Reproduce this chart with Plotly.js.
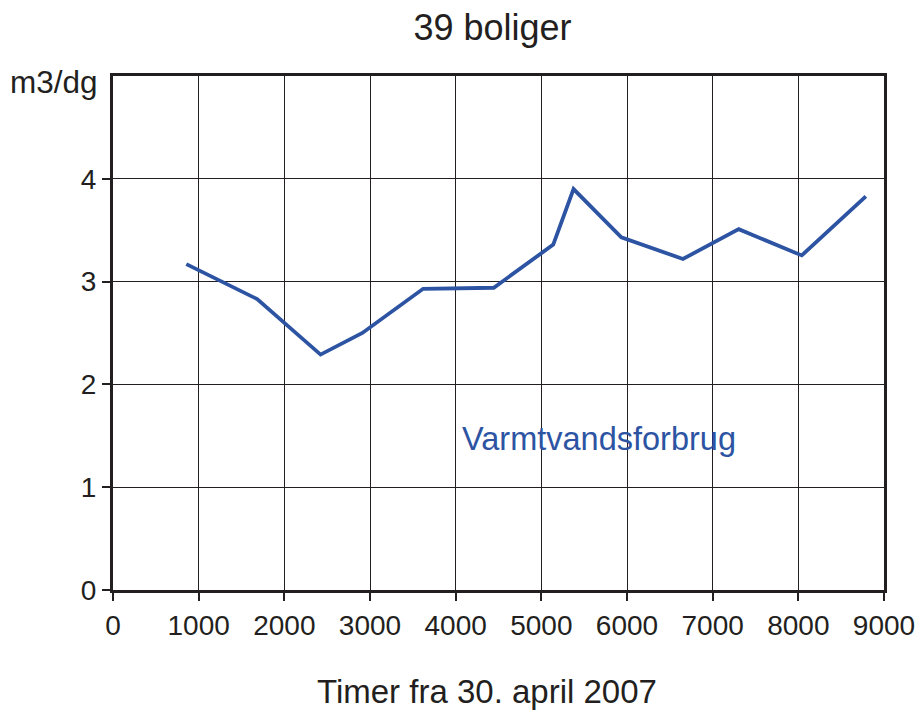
<!DOCTYPE html>
<html>
<head>
<meta charset="utf-8">
<script src="https://cdn.plot.ly/plotly-3.0.1.min.js"></script>
<style>html,body{margin:0;padding:0;background:#fff;}#chart{width:923px;height:710px;}</style>
</head>
<body>
<div id="chart"></div>
<script>
// Data
const hours = [856, 1683, 2423, 2911, 3620, 4445, 5139, 5376, 5934, 6653, 7304, 8040, 8788];
const consumption = [3.17, 2.83, 2.29, 2.50, 2.93, 2.94, 3.36, 3.90, 3.43, 3.22, 3.51, 3.255, 3.83];
const xTicks = [0, 1000, 2000, 3000, 4000, 5000, 6000, 7000, 8000, 9000];
const yTicks = [0, 1, 2, 3, 4];
const seriesName = 'Varmtvandsforbrug';
const chartTitle = '39 boliger';
const xTitle = 'Timer fra 30. april 2007';
const yTitle = 'm3/dg';

const ink = '#231f20';
const lineColor = '#2d54a3';
const font = 'Liberation Sans, Arial, sans-serif';

const trace = {
  x: hours, y: consumption, type: 'scatter', mode: 'lines', name: seriesName,
  line: {color: lineColor, width: 3.8}, hoverinfo: 'x+y'
};

const layout = {
  width: 923, height: 710,
  margin: {l: 113, r: 39, t: 76, b: 120, pad: 0},
  paper_bgcolor: '#ffffff', plot_bgcolor: '#ffffff',
  showlegend: false,
  font: {family: font, color: ink},
  title: {text: chartTitle, font: {family: font, size: 36, color: ink},
          x: 492.5/923, xanchor: 'center', y: 1 - 27/710, yanchor: 'middle'},
  xaxis: {
    range: [0, 9000], tickmode: 'array', tickvals: xTicks, ticktext: xTicks.map(String),
    showgrid: true, gridcolor: ink, gridwidth: 1,
    showline: true, linecolor: ink, linewidth: 3, mirror: true,
    ticks: 'outside', ticklen: 8, tickwidth: 2, tickcolor: ink,
    tickfont: {family: font, size: 28, color: ink},
    zeroline: false, fixedrange: true
  },
  yaxis: {
    range: [0, 5], tickmode: 'array', tickvals: yTicks, ticktext: yTicks.map(String),
    showgrid: true, gridcolor: ink, gridwidth: 1,
    showline: true, linecolor: ink, linewidth: 3, mirror: true,
    ticks: 'outside', ticklen: 8, tickwidth: 2, tickcolor: ink,
    tickfont: {family: font, size: 28, color: ink},
    zeroline: false, fixedrange: true
  },
  annotations: [
    {text: yTitle, xref: 'paper', yref: 'paper', x: (100-113)/771, y: (590-82)/514,
     xanchor: 'right', yanchor: 'middle', showarrow: false,
     font: {family: font, size: 31.5, color: ink}},
    {text: xTitle, xref: 'paper', yref: 'paper', x: (486.5-113)/771, y: (590-691)/514,
     xanchor: 'center', yanchor: 'middle', showarrow: false,
     font: {family: font, size: 33, color: ink}},
    {text: seriesName, xref: 'x', yref: 'y', x: 4050, y: 1.47,
     xanchor: 'left', yanchor: 'middle', showarrow: false,
     font: {family: font, size: 32.5, color: lineColor}}
  ]
};

Plotly.newPlot('chart', [trace], layout, {displayModeBar: false, staticPlot: true});
</script>
</body>
</html>
